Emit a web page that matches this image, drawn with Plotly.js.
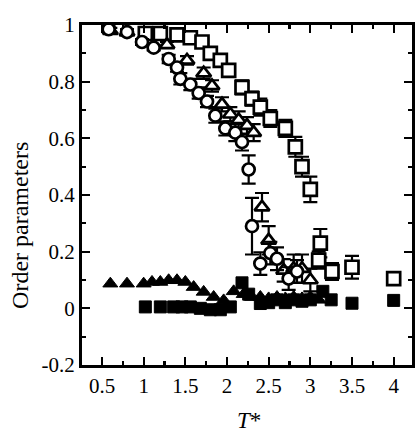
<!DOCTYPE html>
<html>
<head>
<meta charset="utf-8">
<script src="https://cdn.plot.ly/plotly-3.0.1.min.js"></script>
<style>html,body{margin:0;padding:0;background:#fff;}#chart{width:415px;height:432px;}</style>
</head>
<body>
<div id="chart"></div>
<script>
// Open squares
const sqT   = [1.02, 1.20, 1.40, 1.56, 1.70, 1.80, 1.92, 2.02, 2.18, 2.30, 2.40, 2.52, 2.70, 2.82, 2.90, 3.00, 3.12, 3.10, 3.26, 3.50, 4.00];
const sqVal = [0.97, 0.97, 0.965, 0.955, 0.94, 0.90, 0.875, 0.84, 0.78, 0.74, 0.71, 0.67, 0.635, 0.57, 0.50, 0.42, 0.23, 0.17, 0.13, 0.145, 0.105];
const sqErr = [0.01, 0.01, 0.01, 0.01, 0.015, 0.02, 0.02, 0.02, 0.025, 0.025, 0.03, 0.03, 0.03, 0.035, 0.035, 0.045, 0.05, 0.03, 0.03, 0.04, 0.0];
// Open triangles
const trT   = [0.60, 0.80, 1.28, 1.52, 1.72, 1.82, 1.94, 2.04, 2.14, 2.24, 2.32, 2.42, 2.50, 2.68, 2.80, 2.90, 3.00];
const trVal = [0.98, 0.975, 0.93, 0.875, 0.83, 0.785, 0.72, 0.685, 0.665, 0.645, 0.62, 0.357, 0.24, 0.134, 0.14, 0.14, 0.10];
const trErr = [0.01, 0.01, 0.01, 0.015, 0.02, 0.02, 0.025, 0.025, 0.03, 0.03, 0.03, 0.05, 0.05, 0.04, 0.05, 0.05, 0.04];
// Open circles
const ciT   = [0.58, 0.80, 0.98, 1.12, 1.30, 1.40, 1.44, 1.56, 1.66, 1.76, 1.86, 1.98, 2.10, 2.18, 2.26, 2.30, 2.40, 2.52, 2.60, 2.74, 2.84];
const ciVal = [0.985, 0.975, 0.94, 0.92, 0.88, 0.85, 0.81, 0.79, 0.76, 0.73, 0.68, 0.635, 0.62, 0.587, 0.49, 0.29, 0.158, 0.195, 0.175, 0.105, 0.13];
const ciErr = [0.01, 0.01, 0.01, 0.01, 0.015, 0.015, 0.02, 0.02, 0.02, 0.02, 0.025, 0.025, 0.03, 0.03, 0.05, 0.1, 0.04, 0.04, 0.04, 0.04, 0.04];
// Filled triangles
const ftT   = [0.60, 0.80, 1.00, 1.10, 1.20, 1.30, 1.40, 1.50, 1.60, 1.72, 1.84, 1.96, 2.08, 2.20, 2.30, 2.40, 2.50, 2.60, 2.70, 2.80, 2.90, 3.00, 3.10];
const ftVal = [0.087, 0.087, 0.087, 0.093, 0.093, 0.099, 0.099, 0.093, 0.075, 0.058, 0.04, 0.028, 0.06, 0.05, 0.04, 0.04, 0.035, 0.04, 0.035, 0.04, 0.035, 0.04, 0.03];
// Filled squares
const fsT   = [1.02, 1.20, 1.36, 1.46, 1.56, 1.68, 1.80, 1.92, 2.04, 2.18, 2.26, 2.40, 2.50, 2.60, 2.70, 2.80, 2.90, 3.00, 3.15, 3.25, 3.50, 4.00];
const fsVal = [0.005, 0.005, 0.005, 0.005, 0.005, 0.0, -0.005, -0.005, 0.005, 0.09, 0.05, 0.017, 0.02, 0.03, 0.02, 0.03, 0.025, 0.03, 0.06, 0.03, 0.018, 0.028];

const xTickVals = [0.5, 1, 1.5, 2, 2.5, 3, 3.5, 4];
const xTickText = ['0.5', '1', '1.5', '2', '2.5', '3', '3.5', '4'];
const yTickVals = [-0.2, 0, 0.2, 0.4, 0.6, 0.8, 1];
const yTickText = ['-0.2', '0', '0.2', '0.4', '0.6', '0.8', '1'];

const ebar = (arr) => ({type: 'data', array: arr, visible: true, color: 'black', thickness: 2.2, width: 7});
const openMarker = (sym, size) => ({symbol: sym, size: size, color: 'white', line: {color: 'black', width: 2.7}});

const traces = [
  {x: ftT, y: ftVal, mode: 'markers', type: 'scatter', name: 'filled triangles',
   marker: {symbol: 'triangle-up', size: 13, color: 'black', line: {color: 'black', width: 1}}},
  {x: fsT, y: fsVal, mode: 'markers', type: 'scatter', name: 'filled squares',
   marker: {symbol: 'square', size: 12, color: 'black', line: {color: 'black', width: 1}}},
  {x: sqT, y: sqVal, mode: 'markers', type: 'scatter', name: 'open squares',
   error_y: ebar(sqErr), marker: openMarker('square', 13)},
  {x: trT, y: trVal, mode: 'markers', type: 'scatter', name: 'open triangles',
   error_y: ebar(trErr), marker: openMarker('triangle-up', 13)},
  {x: ciT, y: ciVal, mode: 'markers', type: 'scatter', name: 'open circles',
   error_y: ebar(ciErr), marker: openMarker('circle', 12)}
];

const serif = 'Liberation Serif';
const axisCommon = {
  showgrid: false, zeroline: false, showline: true, linecolor: 'black', linewidth: 3,
  mirror: 'allticks', ticks: 'inside', ticklen: 8, tickwidth: 2.2, tickcolor: 'black',
  tickfont: {family: serif, size: 21, color: 'black'}
};

const layout = {
  width: 415, height: 432,
  margin: {l: 82, r: 3, t: 25, b: 67},
  paper_bgcolor: 'white', plot_bgcolor: 'white',
  showlegend: false,
  font: {family: serif, color: 'black'},
  xaxis: Object.assign({}, axisCommon, {
    range: [0.26, 4.22], tickmode: 'array', tickvals: xTickVals, ticktext: xTickText,
    minor: {dtick: 0.25, tick0: 0.25, ticks: 'inside', ticklen: 4, tickwidth: 2.2, tickcolor: 'black'}
  }),
  yaxis: Object.assign({}, axisCommon, {
    range: [-0.2, 1], tickmode: 'array', tickvals: yTickVals, ticktext: yTickText,
    minor: {dtick: 0.1, tick0: 0, ticks: 'inside', ticklen: 4, tickwidth: 2.2, tickcolor: 'black'}
  }),
  annotations: [{
    text: 'Order parameters', textangle: -90, showarrow: false,
    xref: 'paper', yref: 'paper', x: -0.19, y: 0.41, xanchor: 'center', yanchor: 'middle',
    font: {family: serif, size: 24, color: 'black'}
  }, {
    text: '<i>T</i>*', showarrow: false,
    xref: 'paper', yref: 'paper', x: 0.505, y: -0.162, xanchor: 'center', yanchor: 'middle',
    font: {family: serif, size: 23, color: 'black'}
  }]
};

Plotly.newPlot('chart', traces, layout, {displayModeBar: false, staticPlot: true});
</script>
</body>
</html>
